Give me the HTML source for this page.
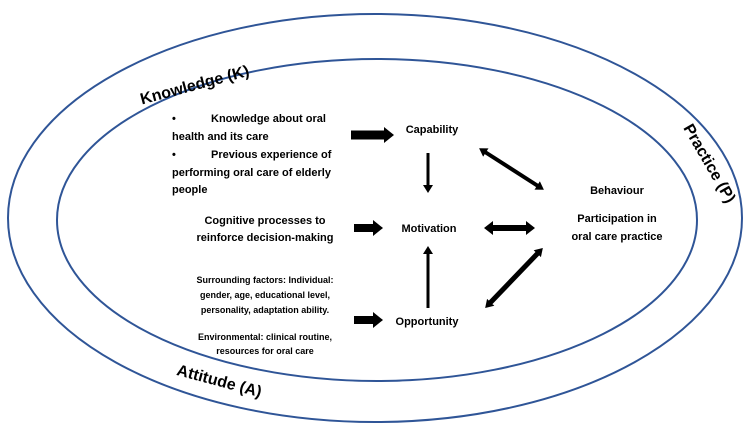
<!DOCTYPE html>
<html><head><style>
body{margin:0;background:#fff;}
svg{display:block;font-family:"Liberation Sans",sans-serif;font-weight:bold;}
</style></head><body>
<svg width="749" height="434" viewBox="0 0 749 434">
<defs>
<marker id="hb" markerWidth="10" markerHeight="16" refX="1" refY="8" orient="auto" markerUnits="userSpaceOnUse"><path d="M0,0 L10,8 L0,16 Z" fill="#000"/></marker>
<marker id="h" markerWidth="8" markerHeight="10" refX="1" refY="5" orient="auto" markerUnits="userSpaceOnUse"><path d="M0,0 L8,5 L0,10 Z" fill="#000"/></marker>
<marker id="hs" markerWidth="8" markerHeight="10" refX="1" refY="5" orient="auto-start-reverse" markerUnits="userSpaceOnUse"><path d="M0,0 L8,5 L0,10 Z" fill="#000"/></marker>
<marker id="h2" markerWidth="9" markerHeight="14" refX="1" refY="7" orient="auto" markerUnits="userSpaceOnUse"><path d="M0,0 L9,7 L0,14 Z" fill="#000"/></marker>
<marker id="h2s" markerWidth="9" markerHeight="14" refX="1" refY="7" orient="auto-start-reverse" markerUnits="userSpaceOnUse"><path d="M0,0 L9,7 L0,14 Z" fill="#000"/></marker>
</defs>
<ellipse cx="375" cy="218" rx="367" ry="204" fill="none" stroke="#2f5597" stroke-width="2"/>
<ellipse cx="377" cy="220" rx="320" ry="161" fill="none" stroke="#2f5597" stroke-width="2"/>
<text x="196" y="90" font-size="16" text-anchor="middle" transform="rotate(-15 196 90)">Knowledge (K)</text>
<text x="705" y="166" font-size="16" text-anchor="middle" transform="rotate(60 705 166)">Practice (P)</text>
<text x="218" y="386" font-size="16" text-anchor="middle" transform="rotate(15 218 386)">Attitude (A)</text>
<g font-size="11" fill="#000">
<text x="172" y="122">•</text>
<text x="211" y="122">Knowledge about oral</text>
<text x="172" y="140">health and its care</text>
<text x="172" y="158">•</text>
<text x="211" y="158">Previous experience of</text>
<text x="172" y="176">performing oral care of elderly</text>
<text x="172" y="193">people</text>
<text x="265" y="224" text-anchor="middle">Cognitive processes to</text>
<text x="265" y="241" text-anchor="middle">reinforce decision-making</text>
<text x="432" y="133" text-anchor="middle">Capability</text>
<text x="429" y="232" text-anchor="middle">Motivation</text>
<text x="427" y="325" text-anchor="middle">Opportunity</text>
<text x="617" y="194" text-anchor="middle">Behaviour</text>
<text x="617" y="222" text-anchor="middle">Participation in</text>
<text x="617" y="240" text-anchor="middle">oral care practice</text>
</g>
<g font-size="9" text-anchor="middle">
<text x="265" y="283">Surrounding factors: Individual:</text>
<text x="265" y="298">gender, age, educational level,</text>
<text x="265" y="313">personality, adaptation ability.</text>
<text x="265" y="340">Environmental: clinical routine,</text>
<text x="265" y="354">resources for oral care</text>
</g>
<g stroke="#000" fill="none">
<line x1="351" y1="135" x2="385" y2="135" stroke-width="9" marker-end="url(#hb)"/>
<line x1="354" y1="228" x2="374" y2="228" stroke-width="8" marker-end="url(#hb)"/>
<line x1="354" y1="320" x2="374" y2="320" stroke-width="8" marker-end="url(#hb)"/>
<line x1="428" y1="153" x2="428" y2="186" stroke-width="3" marker-end="url(#h)"/>
<line x1="428" y1="308" x2="428" y2="253" stroke-width="3" marker-end="url(#h)"/>
<line x1="492" y1="228" x2="527" y2="228" stroke-width="6" marker-start="url(#h2s)" marker-end="url(#h2)"/>
<line x1="485" y1="152" x2="538" y2="186" stroke-width="4" marker-start="url(#hs)" marker-end="url(#h)"/>
<line x1="490" y1="303" x2="538" y2="253" stroke-width="5" marker-start="url(#hs)" marker-end="url(#h)"/>
</g>
</svg>
</body></html>
